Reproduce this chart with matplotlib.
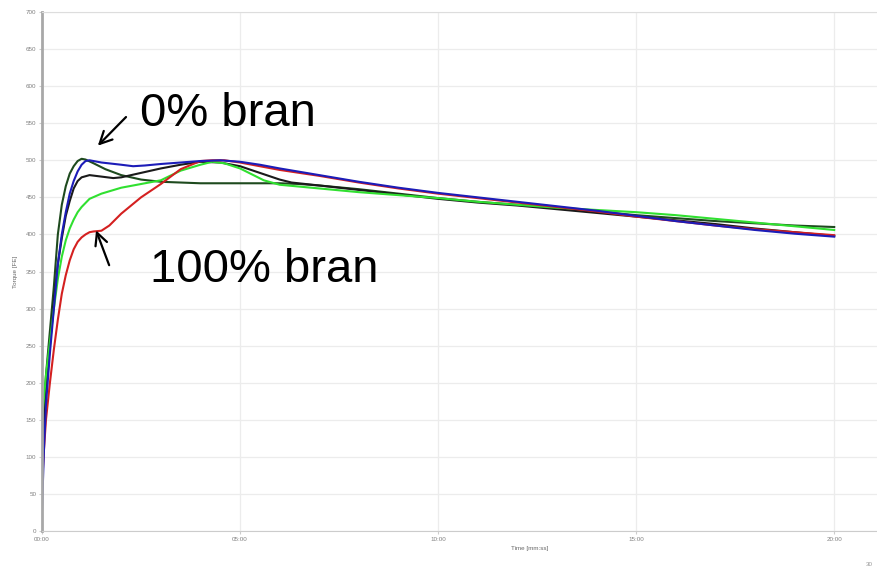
import numpy as np
import matplotlib
matplotlib.use('Agg')
import matplotlib.pyplot as plt

plt.rcParams['font.family'] = ['Liberation Sans', 'DejaVu Sans']

# 曲线数据 (时间: 分钟, 扭矩: FE)
t_dkgreen = [0, 0.05, 0.1, 0.2, 0.3, 0.4, 0.5, 0.6, 0.7, 0.8, 0.9, 1.0, 1.1, 1.3, 1.6, 2.0, 2.5,
             3.0, 3.5, 4.0, 5.0, 6.0, 6.5, 7.0, 8.0, 9.0, 10, 11, 12, 13, 14, 15, 16, 17, 18, 19, 20]
v_dkgreen = [120, 170, 210, 270, 330, 400, 440, 465, 482, 492, 499, 502, 501, 496, 488, 480, 474,
             471, 470, 469, 469, 469, 468, 466, 461, 455, 449, 444, 440, 436, 431, 426, 422, 418, 415, 412, 410]

t_blue = [0, 0.05, 0.1, 0.2, 0.3, 0.4, 0.5, 0.6, 0.7, 0.8, 0.9, 1.0, 1.1, 1.2, 1.5, 2.0, 2.3, 2.6,
          3.0, 3.5, 4.0, 4.5, 5.0, 5.5, 6.0, 7.0, 8.0, 9.0, 10, 11, 12, 13, 14, 15, 16, 17, 18, 19, 20]
v_blue = [28, 110, 170, 240, 300, 360, 400, 430, 455, 472, 485, 494, 499, 500, 497, 494, 492, 493,
          495, 497, 499, 500, 498, 494, 489, 480, 471, 463, 456, 450, 444, 438, 432, 425, 418, 412, 406, 401, 397]

t_black = [0, 0.05, 0.1, 0.2, 0.3, 0.4, 0.5, 0.6, 0.7, 0.8, 0.9, 1.0, 1.2, 1.5, 1.8, 2.0, 2.5, 3.0,
           3.5, 4.0, 4.5, 5.0, 5.5, 6.0, 6.3, 7.0, 8.0, 9.0, 10, 11, 12, 13, 14, 15, 16, 17, 18, 19, 20]
v_black = [100, 150, 190, 250, 310, 360, 395, 425, 445, 462, 472, 477, 480, 478, 476, 477, 483, 489,
           494, 498, 497, 492, 483, 474, 470, 466, 460, 454, 448, 443, 439, 434, 429, 424, 419, 414, 408, 403, 398]

t_green = [0, 0.05, 0.1, 0.2, 0.3, 0.4, 0.5, 0.6, 0.7, 0.8, 0.9, 1.0, 1.2, 1.5, 2.0, 2.5, 3.0, 3.5,
           4.0, 4.3, 4.6, 5.0, 5.3, 5.6, 6.0, 7.0, 8.0, 9.0, 10, 11, 12, 13, 14, 15, 16, 17, 18, 19, 20]
v_green = [150, 180, 210, 255, 300, 340, 370, 392, 408, 420, 430, 437, 448, 455, 463, 468, 473, 486,
           494, 498, 496, 489, 481, 473, 467, 462, 457, 453, 449, 444, 440, 436, 433, 430, 426, 421, 416, 411, 406]

t_red = [0, 0.05, 0.1, 0.2, 0.3, 0.4, 0.5, 0.6, 0.7, 0.8, 0.9, 1.0, 1.1, 1.2, 1.3, 1.5, 1.7, 2.0, 2.5,
         3.0, 3.5, 4.0, 4.3, 4.6, 5.0, 5.5, 6.0, 7.0, 8.0, 9.0, 10, 11, 12, 13, 14, 15, 16, 17, 18, 19, 20]
v_red = [60, 110, 150, 200, 245, 285, 320, 345, 365, 380, 390, 396, 400, 403, 404, 405, 412, 428, 450,
         468, 488, 499, 500, 500, 497, 492, 487, 479, 470, 462, 455, 449, 443, 437, 431, 424, 418, 412, 407, 403, 399]

x_ticks = [0, 5, 10, 15, 20]
x_tick_labels = ['00:00', '05:00', '10:00', '15:00', '20:00']
y_ticks = list(range(0, 701, 50))

fig = plt.figure(figsize=(8.77, 5.74), dpi=100)
ax = fig.add_axes([42 / 877, 1 - 531 / 574, 835 / 877, 519 / 574])

ax.plot(t_dkgreen, v_dkgreen, color='#1e4a1e', lw=1.5)
ax.plot(t_black, v_black, color='#1a1a1a', lw=1.5)
ax.plot(t_green, v_green, color='#30e030', lw=1.5)
ax.plot(t_red, v_red, color='#d42020', lw=1.5)
ax.plot(t_blue, v_blue, color='#1c1cb8', lw=1.5)

ax.set_xlim(0, 21.08)
ax.set_ylim(0, 700)
ax.set_xticks(x_ticks)
ax.set_xticklabels(x_tick_labels)
ax.set_yticks(y_ticks)
ax.tick_params(labelsize=4.5, labelcolor='#808080', length=2, color='#cccccc', pad=2)
ax.grid(True, color='#ececec', lw=0.9)
ax.set_axisbelow(True)

ax.spines['right'].set_visible(False)
ax.spines['top'].set_color('#dddddd')
ax.spines['left'].set_color('#a8a8a8')
ax.spines['left'].set_linewidth(2)
ax.spines['bottom'].set_color('#cccccc')

ax.set_xlabel('Time [mm:ss]', fontsize=4.5, color='#666666', labelpad=2)
ax.xaxis.set_label_coords((530 - 42) / 835, -0.028)
ax.set_ylabel('Torque [FE]', fontsize=4.5, color='#666666', labelpad=6)

# 标注
ax.text(2.47, 563, '0% bran', fontsize=34, ha='left', va='center')
ax.text(2.73, 352, '100% bran', fontsize=34, ha='left', va='center')
ax.annotate('', xy=(1.36, 517), xytext=(2.17, 561),
            arrowprops=dict(arrowstyle='->', color='black', lw=1.6, mutation_scale=22))
ax.annotate('', xy=(1.34, 409), xytext=(1.72, 355),
            arrowprops=dict(arrowstyle='->', color='black', lw=1.6, mutation_scale=22))

fig.text(873 / 877, 1 - 565 / 574, '30', fontsize=4.5, color='#999999', ha='right', va='center')

plt.savefig('out.png', dpi=100)
